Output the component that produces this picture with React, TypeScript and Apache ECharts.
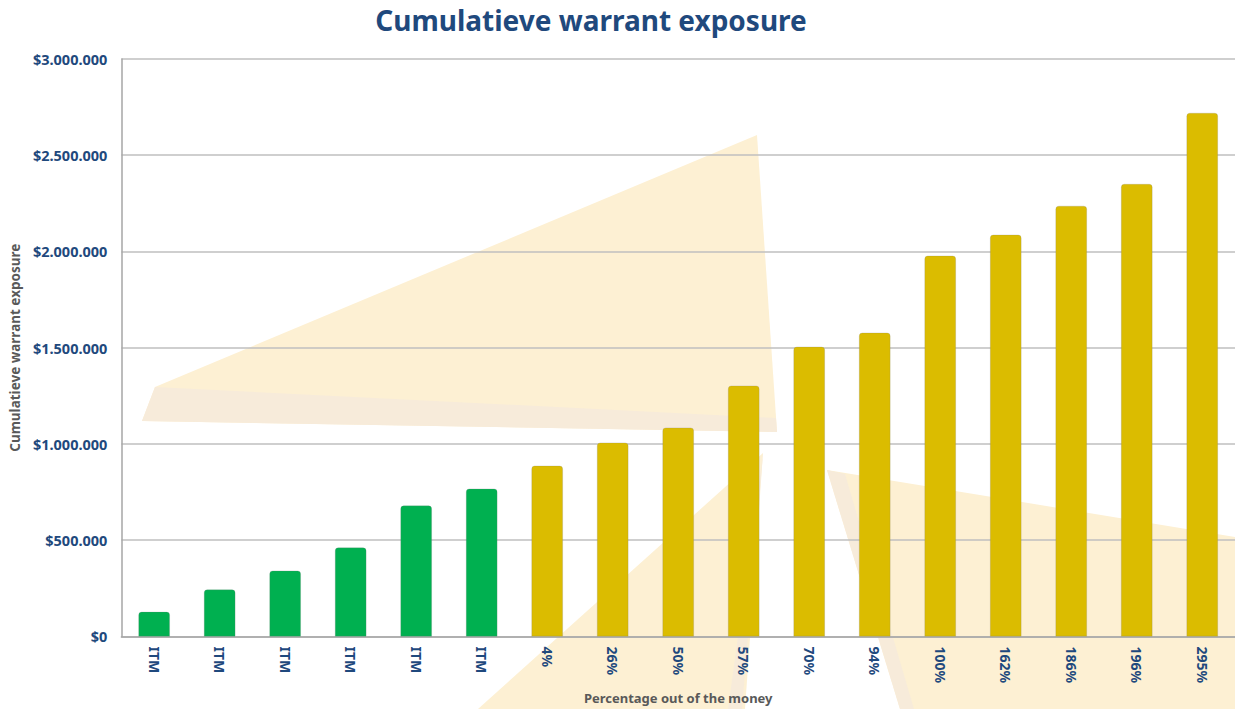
import React, { useEffect, useRef } from "react";
import * as echarts from "echarts";

const categories = ["ITM", "ITM", "ITM", "ITM", "ITM", "ITM", "4%", "26%", "50%", "57%", "70%", "94%", "100%", "162%", "186%", "196%", "295%"];
const exposure = [128000, 244000, 342000, 462000, 680000, 768000, 887000, 1007000, 1085000, 1303000, 1505000, 1578000, 1978000, 2087000, 2237000, 2351000, 2720000];
const yTicks = [0, 500000, 1000000, 1500000, 2000000, 2500000, 3000000];

const GREEN = "#00B050";
const GOLD = "#DBBC00";
const BLUE = "#1F497D";
const GRAY = "#595959";
const FONT = "'Noto Sans', 'Open Sans', sans-serif";

function fmt(v: number): string {
  return "$" + String(Math.round(v)).replace(/\B(?=(\d{3})+(?!\d))/g, ".");
}

export default function App() {
  const ref = useRef<HTMLDivElement>(null);
  useEffect(() => {
    if (!ref.current) return;
    const chart = echarts.init(ref.current, null, { renderer: "svg" });
    const pale = "#FDF0D3";
    const paleDark = "#F7EBDA";
    chart.setOption({
      animation: false,
      backgroundColor: "#FFFFFF",
      title: {
        text: "Cumulatieve warrant exposure",
        left: 586,
        top: 1,
        textAlign: "center",
        textStyle: { color: BLUE, fontFamily: FONT, fontWeight: "bold", fontSize: 28 },
      },
      graphic: {
        elements: [
          { type: "polygon", z: -10, shape: { points: [[155, 387], [757, 135], [777, 432], [142, 421]] }, style: { fill: pale } },
          { type: "polygon", z: -9, shape: { points: [[155, 387], [142, 421], [777, 432], [776, 418]] }, style: { fill: paleDark } },
          { type: "polygon", z: -10, shape: { points: [[763, 453], [478, 709], [745, 709]] }, style: { fill: pale } },
          { type: "polygon", z: -9, shape: { points: [[763, 453], [728, 709], [742, 709]] }, style: { fill: paleDark } },
          { type: "polygon", z: -10, shape: { points: [[827, 470], [1235, 537], [1235, 709], [900, 709]] }, style: { fill: pale } },
          { type: "polygon", z: -9, shape: { points: [[827, 470], [845, 474], [914, 709], [900, 709]] }, style: { fill: paleDark } },
        ],
      },
      grid: { left: 120, right: 0, top: 59, bottom: 72, containLabel: false },
      xAxis: {
        type: "category",
        data: categories,
        name: "Percentage out of the money",
        nameLocation: "middle",
        nameGap: 54,
        nameTextStyle: { color: GRAY, fontFamily: FONT, fontWeight: "bold", fontSize: 13 },
        axisLine: { lineStyle: { color: "#A6A6A6", width: 1.5 } },
        axisTick: { show: false },
        axisLabel: {
          rotate: -90,
          margin: 10,
          interval: 0,
          color: BLUE,
          fontFamily: FONT,
          fontWeight: "bold",
          fontSize: 14,
        },
      },
      yAxis: {
        type: "value",
        min: yTicks[0],
        max: yTicks[yTicks.length - 1],
        interval: yTicks[1] - yTicks[0],
        name: "Cumulatieve warrant exposure",
        nameLocation: "middle",
        nameGap: 97,
        nameTextStyle: { color: GRAY, fontFamily: FONT, fontWeight: "bold", fontSize: 13.5 },
        axisLine: { show: true, lineStyle: { color: "#A6A6A6", width: 1.5 } },
        axisTick: { show: false },
        splitLine: { lineStyle: { color: "#BFBFBF", width: 1.5 } },
        axisLabel: {
          margin: 14,
          color: BLUE,
          fontFamily: FONT,
          fontWeight: "bold",
          fontSize: 14.5,
          formatter: (v: number) => fmt(v),
        },
      },
      series: [
        {
          type: "bar",
          barWidth: "48%",
          z: 3,
          data: exposure.map((v, i) => ({
            value: v,
            itemStyle: {
              color: categories[i] === "ITM" ? GREEN : GOLD,
              borderRadius: [3, 3, 0, 0],
              borderColor: "rgba(120,120,120,0.35)",
              borderWidth: 0.6,
            },
          })),
        },
      ],
    });
    return () => chart.dispose();
  }, []);
  return <div ref={ref} style={{ position: "absolute", left: 0, top: 0, width: 1235, height: 709 }} />;
}
